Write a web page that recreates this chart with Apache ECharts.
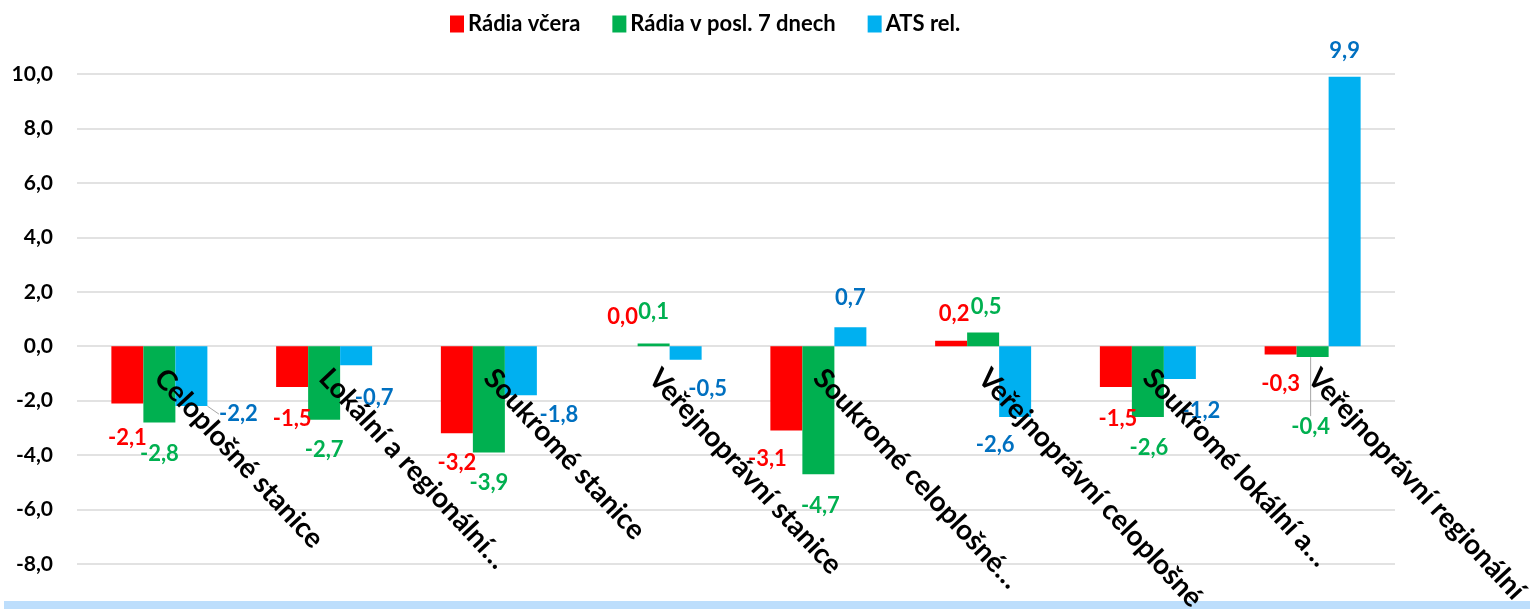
<!DOCTYPE html>
<html>
<head>
<meta charset="utf-8">
<script src="https://cdn.jsdelivr.net/npm/echarts@6/dist/echarts.min.js"></script>
<style>
html,body{margin:0;padding:0;background:#fff;}
#chart{width:1530px;height:609px;}
</style>
</head>
<body>
<div id="chart"></div>
<script>
// ---- data ----
const categories = [
  "Celoplošné stanice",
  "Lokální a regionální…",
  "Soukromé stanice",
  "Veřejnoprávní stanice",
  "Soukromé celoplošné…",
  "Veřejnoprávní celoplošné",
  "Soukromé lokální a…",
  "Veřejnoprávní regionální"
];
const seriesNames = ["Rádia včera", "Rádia v posl. 7 dnech", "ATS rel."];
const radiaVcera = [-2.1, -1.5, -3.2, 0.0, -3.1, 0.2, -1.5, -0.3];
const radia7dni  = [-2.8, -2.7, -3.9, 0.1, -4.7, 0.5, -2.6, -0.4];
const atsRel     = [-2.2, -0.7, -1.8, -0.5, 0.7, -2.6, -1.2, 9.9];
const yTicks = { min: -8, max: 10, interval: 2 };

// ---- styling (kept separate from data) ----
const FONT = "Lato, 'Liberation Sans', sans-serif";
const barColors = ["#FF0000", "#00B050", "#00B0F0"];
const labelColors = ["#FF0000", "#00B050", "#0070C0"];
const GRID = { left: 77, right: 135, top: 74, bottom: 45 };
const CHART_H = 609;
// label nudges [dx, dy] per point, mimicking manual placement in the original
const labelNudges = [
  [[0,19],[0,16],[0,14],[1,-13],[-19,12],[3,-11],[2,16],[0,14]],
  [[0,15],[0,14],[0,15],[0,-16],[2,16],[3,-10],[1,15],[-2,54]],
  [[47,-8],[18,17],[38,4],[22,13],[0,-13],[-20,12],[21,16],[0,-10]]
];
// points whose label has a leader line in the original
const leaderPoints = [[], [7], [0]];

const fmt = v => v.toFixed(1).replace('.', ',');

// category axis sits on the zero line (like the original): shift it up from the grid bottom
const plotH = CHART_H - GRID.top - GRID.bottom;
const zeroShift = plotH * (0 - yTicks.min) / (yTicks.max - yTicks.min);

function buildSeries(name, values, si) {
  return {
    name: name,
    type: 'bar',
    barWidth: 32,
    barGap: '0%',
    itemStyle: { color: barColors[si] },
    labelLayout: function (p) {
      const n = labelNudges[si][p.dataIndex];
      return { dx: n[0], dy: n[1] };
    },
    data: values.map((v, i) => ({
      value: v,
      labelLine: { show: leaderPoints[si].indexOf(i) >= 0, lineStyle: { color: '#A6A6A6', width: 1 } },
      label: {
        show: true,
        position: v < 0 ? 'bottom' : 'top',
        color: labelColors[si],
        fontFamily: FONT,
        fontWeight: 'bold',
        fontSize: 22,
        formatter: p => fmt(p.value)
      }
    }))
  };
}

const chart = echarts.init(document.getElementById('chart'), null, { renderer: 'canvas' });
chart.setOption({
  animation: false,
  backgroundColor: '#ffffff',
  textStyle: { fontFamily: FONT },
  legend: {
    top: 8,
    left: 445,
    itemWidth: 14,
    itemHeight: 17,
    itemGap: 32,
    icon: 'rect',
    textStyle: { fontFamily: FONT, fontWeight: 'bold', fontSize: 22, color: '#000', padding: [0,0,0,-1] },
    data: seriesNames
  },
  grid: {
    left: GRID.left, right: GRID.right, top: GRID.top, bottom: GRID.bottom,
    containLabel: false,
    outerBoundsMode: 'none'
  },
  xAxis: {
    type: 'category',
    data: categories,
    z: 10,
    offset: -zeroShift,
    axisLine: { show: false, onZero: false },
    axisTick: { show: false },
    axisLabel: {
      interval: 0,
      rotate: -47,
      margin: 27,
      color: '#000',
      fontFamily: FONT,
      fontWeight: 'bold',
      fontSize: 28,
      hideOverlap: false
    }
  },
  yAxis: {
    type: 'value',
    min: yTicks.min,
    max: yTicks.max,
    interval: yTicks.interval,
    axisLine: { show: false },
    axisTick: { show: false },
    splitLine: { lineStyle: { color: '#D9D9D9', width: 1.5 } },
    axisLabel: {
      margin: 24,
      color: '#000',
      fontFamily: FONT,
      fontWeight: 'bold',
      fontSize: 21,
      formatter: v => fmt(v)
    }
  },
  graphic: [{
    type: 'rect',
    z: -10,
    shape: { x: 4, y: 601, width: 1526, height: 8 },
    style: { fill: '#BDDEFC' }
  }],
  series: [
    buildSeries(seriesNames[0], radiaVcera, 0),
    buildSeries(seriesNames[1], radia7dni, 1),
    buildSeries(seriesNames[2], atsRel, 2)
  ]
});
</script>
</body>
</html>
